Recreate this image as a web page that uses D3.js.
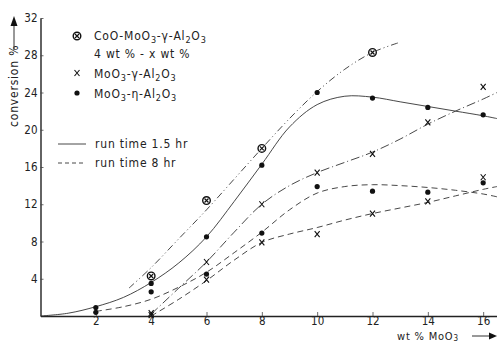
<!DOCTYPE html>
<html>
<head>
<meta charset="utf-8">
<script src="https://cdn.jsdelivr.net/npm/d3@7"></script>
<style>
  body { margin: 0; background: #fff; }
  text { font-family: "DejaVu Sans Condensed", "DejaVu Sans", sans-serif; fill: #222; }
</style>
</head>
<body>
<div class="canvas"></div>
<script>
var width = 497,
	height = 343;

// tick labels
var xTicks = [2, 4, 6, 8, 10, 12, 14, 16];
var yTicks = [4, 8, 12, 16, 20, 24, 28, 32];

// measured points
var coX = [4, 6, 8, 12];
var coY = [4.3, 12.4, 18.0, 28.3];
var etaX = [2, 2, 4, 4, 6, 6, 8, 8, 10, 10, 12, 12, 14, 14, 16, 16];
var etaY = [0.9, 0.4, 3.5, 2.6, 8.5, 4.5, 16.2, 8.9, 24.0, 13.9, 23.4, 13.4, 22.4, 13.3, 21.6, 14.3];
var gammaX = [4, 4, 6, 6, 8, 8, 10, 10, 12, 12, 14, 14, 16, 16];
var gammaY = [0.3, 0.1, 5.8, 3.9, 12.0, 7.9, 15.4, 8.8, 17.4, 11.0, 20.8, 12.3, 24.6, 14.9];

// fitted curves
var coLineX = [3.2, 4, 5, 6, 7, 8, 9, 10, 11, 12, 13];
var coLineY = [3.0, 5.2, 8.3, 11.4, 14.7, 18.0, 21.2, 24.1, 26.5, 28.3, 29.4];
var eta15X = [0, 1, 2, 3, 4, 5, 6, 7, 8, 9, 10, 11, 12, 13, 14, 15, 16, 16.5];
var eta15Y = [0, 0.3, 1.0, 2.0, 3.6, 5.7, 8.5, 12.3, 16.3, 20.3, 22.7, 23.6, 23.5, 23.0, 22.5, 22.0, 21.5, 21.2];
var gamma15X = [4, 5, 6, 7, 8, 9, 10, 11, 12, 13, 14, 15, 16, 16.5];
var gamma15Y = [0.2, 3.0, 5.8, 9.0, 12.0, 14.0, 15.4, 16.5, 17.6, 19.0, 20.6, 22.0, 23.3, 24.0];
var eta8X = [2, 3, 4, 5, 6, 7, 8, 9, 10, 11, 12, 13, 14, 15, 16, 16.5];
var eta8Y = [0.5, 1.0, 1.8, 3.1, 4.7, 6.8, 9.0, 11.4, 13.2, 13.9, 14.1, 14.0, 13.8, 13.5, 13.1, 12.8];
var gamma8X = [4, 5, 6, 7, 8, 9, 10, 11, 12, 13, 14, 15, 16, 16.5];
var gamma8Y = [0, 1.8, 3.8, 6.0, 7.9, 8.8, 9.5, 10.3, 11.0, 11.6, 12.2, 12.9, 13.6, 13.9];

var svg = d3.select(".canvas")
	.append("svg")
	.attr("width", width)
	.attr("height", height);

var x = d3.scaleLinear().domain([0, 16.5]).range([40.5, 497]);
var y = d3.scaleLinear().domain([0, 32]).range([316, 18]);

/* ---------- axes ---------- */
var xAxis = svg.append("g")
	.attr("transform", "translate(0," + y(0) + ")")
	.call(d3.axisBottom(x).tickValues(xTicks).tickSizeInner(-4).tickSizeOuter(0).tickPadding(1).tickFormat(d3.format("d")));
var yAxis = svg.append("g")
	.attr("transform", "translate(" + x(0) + ",0)")
	.call(d3.axisLeft(y).tickValues(yTicks).tickSizeInner(-3).tickSizeOuter(0).tickPadding(3).tickFormat(d3.format("d")));

[xAxis, yAxis].forEach(function(a) {
	a.select(".domain").attr("stroke", "#222").attr("stroke-width", 1.4);
	a.selectAll(".tick line").attr("stroke", "#444").attr("stroke-width", 0.8);
	a.selectAll(".tick text").attr("font-size", 11.5).attr("fill", "#222")
		.attr("font-family", "DejaVu Sans Condensed, DejaVu Sans, sans-serif");
});

/* ---------- curves ---------- */
function zip(xs, ys) {
	return xs.map(function(v, i) { return [v, ys[i]]; });
}
var line = d3.line()
	.x(function(d) { return x(d[0]); })
	.y(function(d) { return y(d[1]); })
	.curve(d3.curveCatmullRom.alpha(0.5));

var curves = [
	{ pts: zip(coLineX, coLineY), dash: "7,3,1,3,1,3" },
	{ pts: zip(eta15X, eta15Y), dash: null },
	{ pts: zip(gamma15X, gamma15Y), dash: "9,3,1,3" },
	{ pts: zip(eta8X, eta8Y), dash: "6,4" },
	{ pts: zip(gamma8X, gamma8Y), dash: "6,4" }
];
curves.forEach(function(c) {
	svg.append("path")
		.attr("d", line(c.pts))
		.attr("fill", "none")
		.attr("stroke", "#333")
		.attr("stroke-width", 0.9)
		.attr("stroke-dasharray", c.dash);
});

/* ---------- markers ---------- */
function dot(g, cx, cy) {
	g.append("circle").attr("cx", cx).attr("cy", cy).attr("r", 2.6).attr("fill", "#111");
}
function cross(g, cx, cy) {
	g.append("path")
		.attr("d", "M" + (cx - 2.5) + "," + (cy - 3) + "L" + (cx + 2.5) + "," + (cy + 3) +
			"M" + (cx + 2.5) + "," + (cy - 3) + "L" + (cx - 2.5) + "," + (cy + 3))
		.attr("stroke", "#111").attr("stroke-width", 1.1);
}
function circX(g, cx, cy) {
	g.append("circle").attr("cx", cx).attr("cy", cy).attr("r", 3.8)
		.attr("fill", "#fff").attr("stroke", "#111").attr("stroke-width", 1.4);
	g.append("path")
		.attr("d", "M" + (cx - 2) + "," + (cy - 2) + "L" + (cx + 2) + "," + (cy + 2) +
			"M" + (cx + 2) + "," + (cy - 2) + "L" + (cx - 2) + "," + (cy + 2))
		.attr("stroke", "#111").attr("stroke-width", 1.2);
}

var marks = svg.append("g");
etaX.forEach(function(v, i) { dot(marks, x(v), y(etaY[i])); });
gammaX.forEach(function(v, i) { cross(marks, x(v), y(gammaY[i])); });
coX.forEach(function(v, i) { circX(marks, x(v), y(coY[i])); });

/* ---------- legend ---------- */
var leg = svg.append("g");
function chem(t, parts, drop, subSize) {
	// parts: [text, isSub]; subscripts drop a few px and come back up
	drop = drop || 3;
	var prevSub = false;
	parts.forEach(function(p) {
		var ts = t.append("tspan").text(p[0]);
		var dy = 0;
		if (p[1] && !prevSub) dy = drop;
		else if (!p[1] && prevSub) dy = -drop;
		ts.attr("dy", dy);
		if (p[1]) ts.attr("font-size", subSize || 9);
		prevSub = p[1];
	});
}
function legText(tx, ty, parts) {
	var t = leg.append("text").attr("x", tx).attr("y", ty)
		.attr("font-size", 12).attr("letter-spacing", 0.8);
	chem(t, parts);
	return t;
}

circX(leg, 77, 36);
legText(94, 40, [["CoO-MoO", 0], ["3", 1], ["-γ-Al", 0], ["2", 1], ["O", 0], ["3", 1]]);
legText(94, 58, [["4 wt % - x wt %", 0]]);
cross(leg, 77, 73);
legText(94, 78, [["MoO", 0], ["3", 1], ["-γ-Al", 0], ["2", 1], ["O", 0], ["3", 1]]);
dot(leg, 77, 93);
legText(94, 98, [["MoO", 0], ["3", 1], ["-η-Al", 0], ["2", 1], ["O", 0], ["3", 1]]);

leg.append("line").attr("x1", 58).attr("x2", 86).attr("y1", 144).attr("y2", 144)
	.attr("stroke", "#333").attr("stroke-width", 0.9);
legText(95, 148, [["run  time  1.5 hr", 0]]);
leg.append("line").attr("x1", 58).attr("x2", 86).attr("y1", 163).attr("y2", 163)
	.attr("stroke", "#333").attr("stroke-width", 0.9).attr("stroke-dasharray", "4,3");
legText(95, 167, [["run  time  8 hr", 0]]);

/* ---------- axis titles ---------- */
var xt = svg.append("text").attr("x", 397).attr("y", 339.5)
	.attr("font-size", 11).attr("letter-spacing", 0.8);
chem(xt, [["wt % MoO", 0], ["3", 1]], 1.5, 8);
svg.append("line").attr("x1", 472).attr("x2", 492).attr("y1", 336).attr("y2", 336)
	.attr("stroke", "#333").attr("stroke-width", 1);
svg.append("path").attr("d", "M497,336L489,332.5L489,339.5Z").attr("fill", "#111");

svg.append("text")
	.attr("transform", "translate(18,127) rotate(-90)")
	.attr("font-size", 12).attr("letter-spacing", 0.8)
	.text("conversion %");
svg.append("line").attr("x1", 14).attr("x2", 14).attr("y1", 50).attr("y2", 24)
	.attr("stroke", "#333").attr("stroke-width", 1);
svg.append("path").attr("d", "M14,16L10.5,26L17.5,26Z").attr("fill", "#111");
</script>
</body>
</html>
